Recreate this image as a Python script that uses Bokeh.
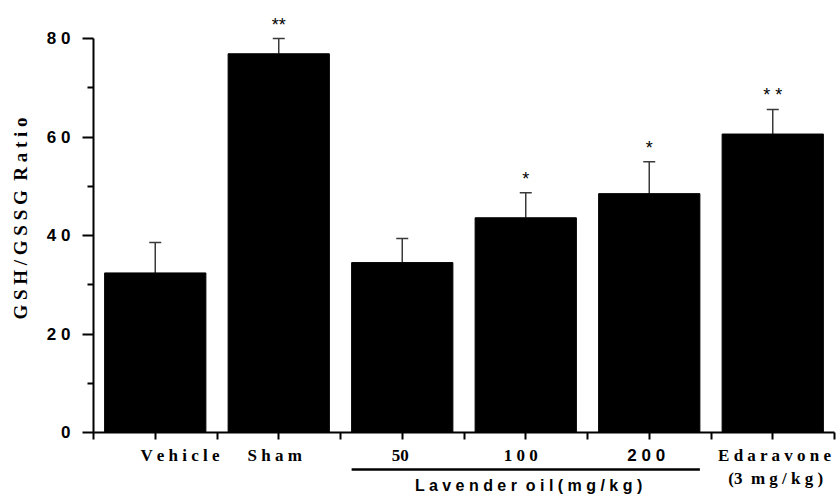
import math
from bokeh.plotting import figure
from bokeh.models import (ColumnDataSource, FixedTicker, Whisker, TeeHead,
                          LabelSet, Label, Arrow, Range1d)
from bokeh.core.properties import value
from bokeh.embed import file_html
from bokeh.resources import INLINE

# ---- data ----
categories = ["Vehicle", "Sham", "50", "100", "200", "Edaravone"]
cat_labels = ["V e h i c l e", "S h a m", "50", "1 0 0", "2 0 0", "E d a r a v o n e"]
means = [32.4, 76.9, 34.5, 43.6, 48.5, 60.6]
errors = [6.2, 3.1, 4.9, 5.1, 6.5, 5.0]
significance = ["", "**", "", "*", "*", "* *"]
y_ticks = [0, 20, 40, 60, 80]
y_minor = [10, 30, 50, 70]
y_tick_labels = ["0", "2 0", "4 0", "6 0", "8 0"]
group_label = "L a v e n d e r\u00a0 o i l ( m g / k g )"
edaravone_dose = "(3\u00a0 m g / k g )"
y_title = "G S H / G S S G\u00a0 R a t i o"

BAR_W = 0.82
N = len(categories)
xc = [i + 0.5 for i in range(N)]
upper = [m + e for m, e in zip(means, errors)]

src = ColumnDataSource(dict(xc=xc, mean=means, upper=upper, sig=significance))

W, H = 837, 495
LEFT, RIGHT, BASE, TOP80 = 93, 3, 432, 38
PX = 80 / (BASE - TOP80)            # y data units per pixel
CPX = N / (W - LEFT - RIGHT)        # x data units per pixel

p = figure(width=W, height=H,
           x_range=Range1d(-LEFT * CPX, N + RIGHT * CPX),
           y_range=Range1d(-(H - BASE) * PX, BASE * PX),
           output_backend="svg", toolbar_location=None,
           min_border_left=0, min_border_right=0, min_border_top=0,
           min_border_bottom=0)
p.outline_line_color = None
p.xgrid.grid_line_color = None
p.ygrid.grid_line_color = None
p.background_fill_color = "white"
p.border_fill_color = "white"

# bars
p.vbar(x="xc", top="mean", width=BAR_W, source=src, fill_color="black",
       line_color="black")

# error bars (upper only)
wh = Whisker(source=src, base="xc", lower="mean", upper="upper", dimension="height",
             line_color="#3a3a3a", line_width=1.5,
             upper_head=TeeHead(size=12, line_color="#3a3a3a", line_width=1.5),
             lower_head=None)
p.add_layout(wh)

# significance stars
p.text(x="xc", y="upper", text="sig", source=src, text_align="center",
       text_baseline="middle", y_offset=-14, text_font=value("Liberation Sans"),
       text_font_size="18px", text_color="black")

# y axis drawn at x = 0
yax = p.yaxis[0]
yax.fixed_location = 0
yax.ticker = FixedTicker(ticks=y_ticks, minor_ticks=y_minor)
yax.bounds = (0, 80)
yax.major_label_overrides = {t: l for t, l in zip(y_ticks, y_tick_labels)}
yax.major_label_text_font = "Liberation Sans"
yax.major_label_text_font_style = "bold"
yax.major_label_text_font_size = "17px"
yax.major_label_text_color = "black"
yax.major_label_standoff = 12
yax.major_tick_out = 11
yax.major_tick_in = 0
yax.minor_tick_out = 6
yax.minor_tick_in = 0
yax.axis_line_width = 2
yax.major_tick_line_width = 2
yax.minor_tick_line_width = 2
yax.axis_line_color = "black"
yax.major_tick_line_color = "black"
yax.minor_tick_line_color = "black"

# y title
p.text(x=[0], y=[(BASE - 218) * PX], text=[y_title], x_offset=-73, angle=math.pi / 2,
       text_align="center", text_baseline="middle",
       text_font=value("Liberation Serif"), text_font_style="bold",
       text_font_size="19px", text_color="black")

# x axis drawn at y = 0
xax = p.xaxis[0]
xt = [i * 0.5 for i in range(2 * N + 1)]
xax.fixed_location = 0
xax.bounds = (0, N)
xax.ticker = FixedTicker(ticks=xt, minor_ticks=[])
xax.major_label_overrides = {t: "" for t in xt}
xax.major_tick_out = 7
xax.major_tick_in = 0
xax.axis_line_width = 2
xax.major_tick_line_width = 2
xax.axis_line_color = "black"
xax.major_tick_line_color = "black"

# category labels
serif_idx = [i for i in range(N) if categories[i] != "200"]
lab_src = ColumnDataSource(dict(
    x=[xc[i] for i in serif_idx],
    y=[0] * len(serif_idx),
    text=[cat_labels[i] for i in serif_idx],
    xo=[[25, -4, -2, -5, -3, 2][i] for i in serif_idx],
))
p.add_layout(LabelSet(x="x", y="y", text="text", source=lab_src, x_offset="xo",
                      y_offset=-23, text_align="center", text_baseline="middle",
                      text_font="Liberation Serif", text_font_style="bold",
                      text_font_size="17px", text_color="black"))
i200 = categories.index("200")
p.add_layout(Label(x=xc[i200], y=0, text=cat_labels[i200], x_offset=-3, y_offset=-23,
                   text_align="center", text_baseline="middle",
                   text_font="Liberation Sans", text_font_style="bold",
                   text_font_size="17px", text_color="black"))
ie = categories.index("Edaravone")
p.add_layout(Label(x=xc[ie], y=0, text=edaravone_dose, x_offset=3, y_offset=-46,
                   text_align="center", text_baseline="middle",
                   text_font="Liberation Serif", text_font_style="bold",
                   text_font_size="17px", text_color="black"))

# group bracket for lavender oil doses
i50 = categories.index("50")
x0 = xc[i50] - BAR_W / 2
x1 = xc[i200] + BAR_W / 2
p.add_layout(Arrow(end=None, x_start=x0, y_start=-37 * PX, x_end=x1, y_end=-37 * PX,
                   line_width=2.5, line_color="black"))
p.add_layout(Label(x=(x0 + x1) / 2, y=0, text=group_label, x_offset=3, y_offset=-53,
                   text_align="center", text_baseline="middle",
                   text_font="Liberation Sans", text_font_style="bold",
                   text_font_size="16px", text_color="black"))

open("out.html", "w").write(file_html(p, INLINE))
